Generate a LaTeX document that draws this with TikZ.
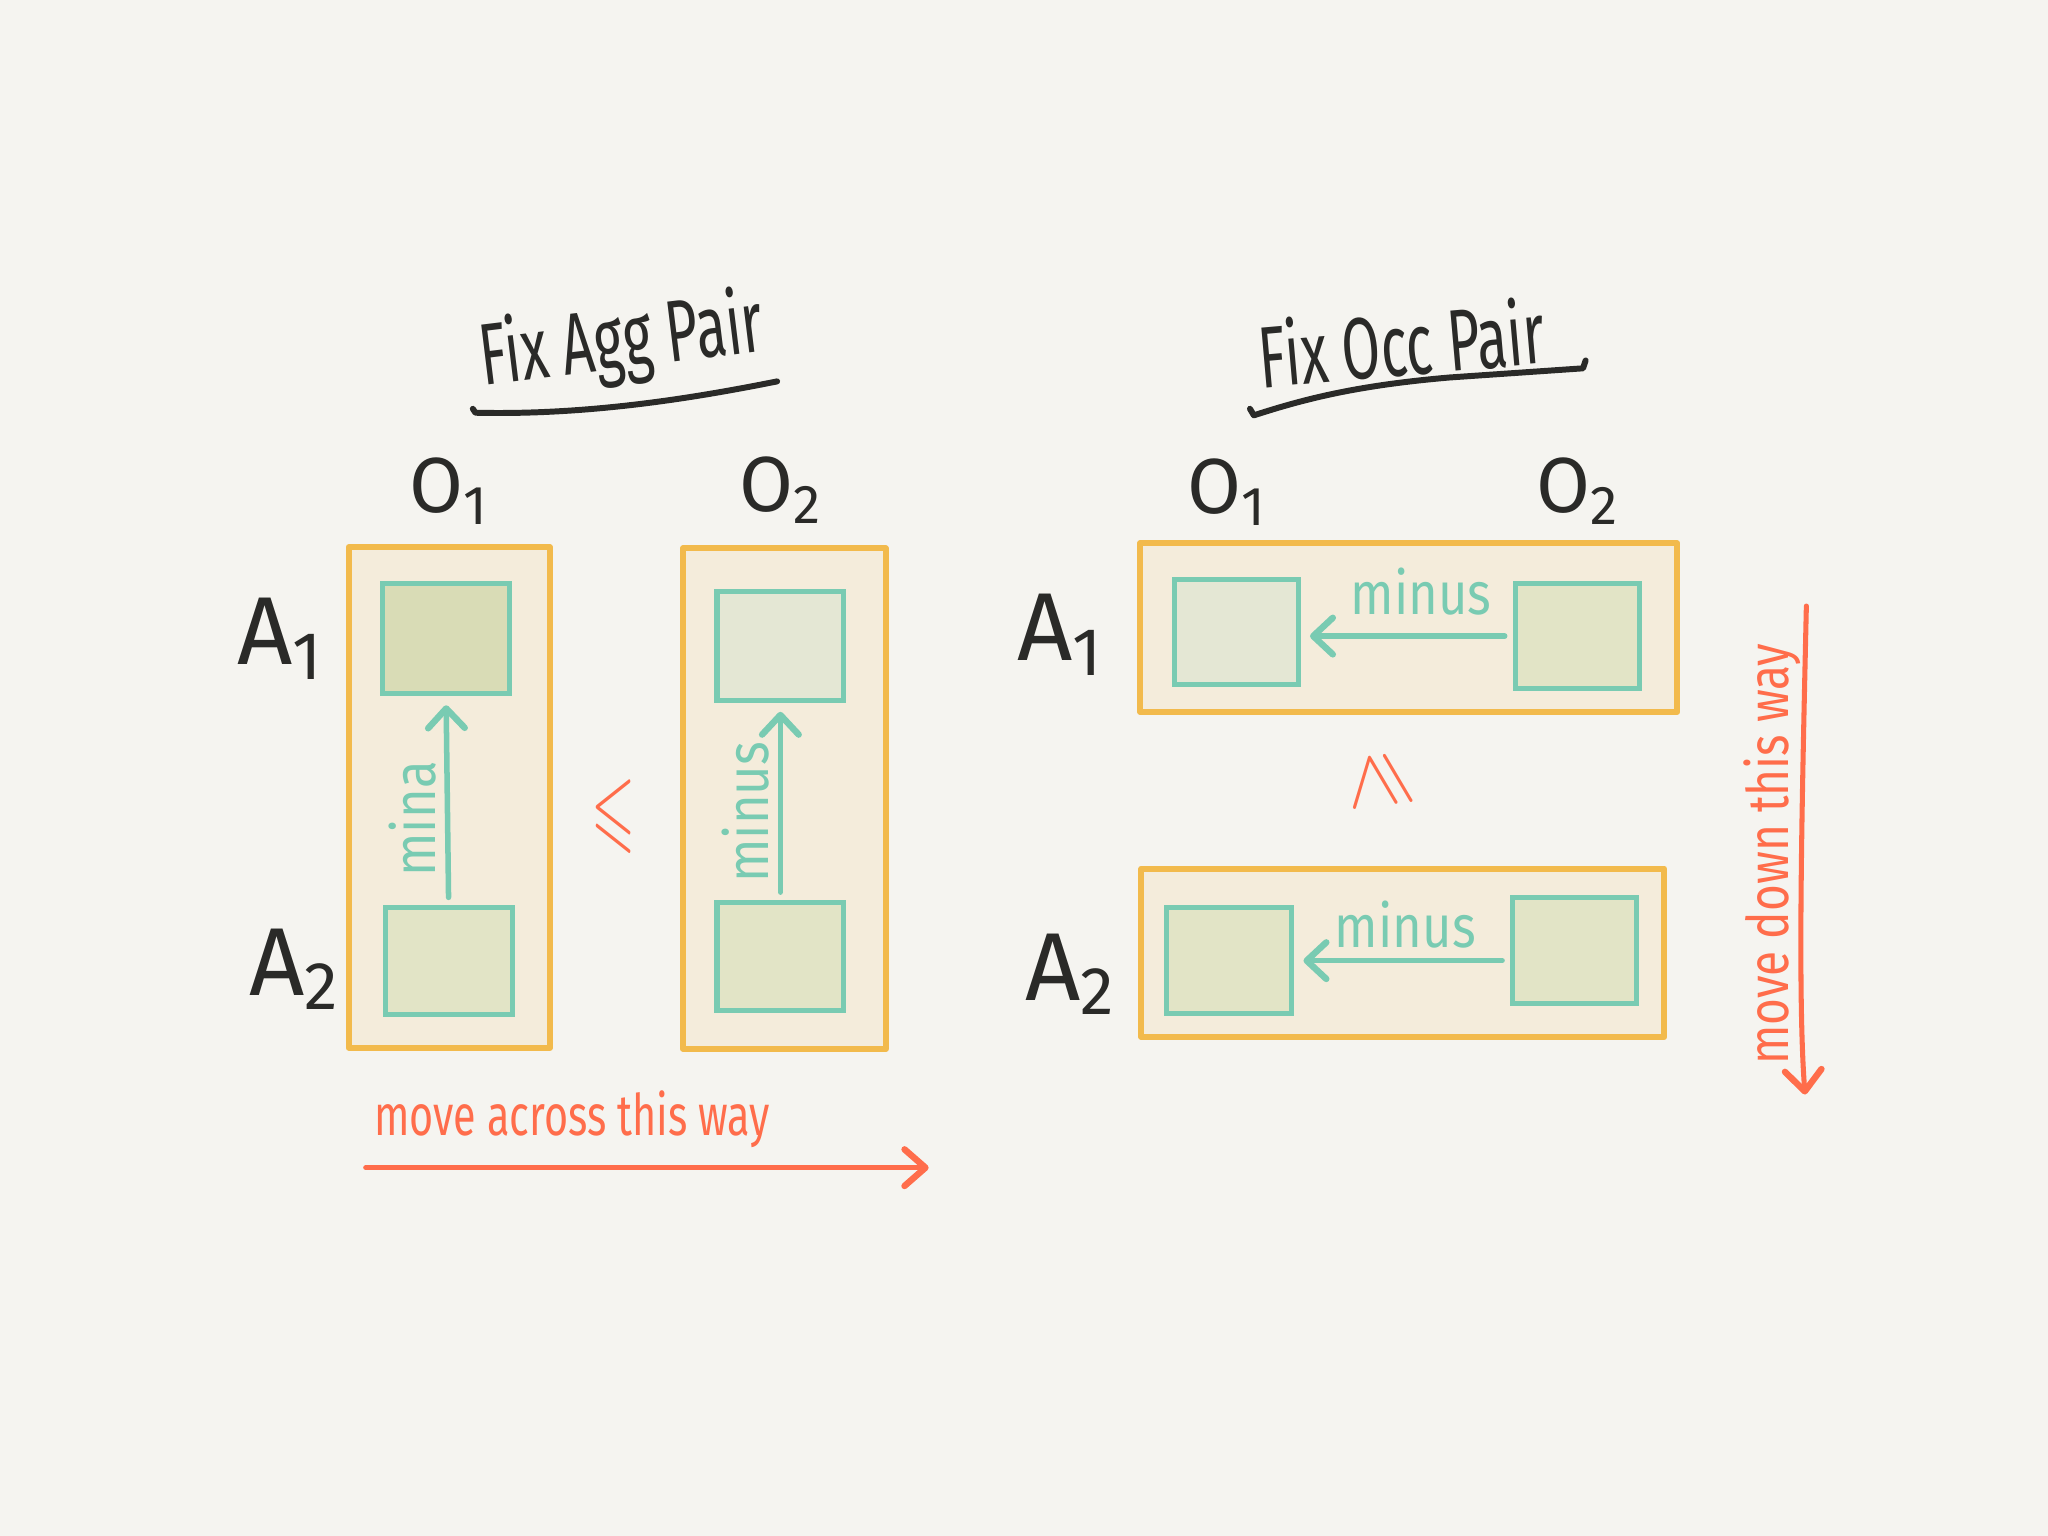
\documentclass[tikz,border=0pt]{standalone}
\usepackage{fontspec}
\setmainfont{Fira Sans}
\usepackage{amssymb}
\usetikzlibrary{arrows.meta}
\definecolor{bg}{HTML}{F5F4F0}
\definecolor{ora}{HTML}{F2BA4C}
\definecolor{orafill}{HTML}{F4ECDB}
\definecolor{tealc}{HTML}{79CBB2}
\definecolor{sqdark}{HTML}{D9DCB6}
\definecolor{sqmid}{HTML}{E2E4C6}
\definecolor{sqlight}{HTML}{E4E7D4}
\definecolor{redc}{HTML}{FF6D4B}
\definecolor{ink}{HTML}{2A2A28}
\newcommand\handtxt[2]{\scalebox{#1}[1]{#2}}
\tikzset{
  panel/.style={draw=ora, fill=orafill, line width=1.3pt, line join=round, inner sep=0pt},
  cell/.style={draw=tealc, line width=1.1pt, inner sep=0pt},
  flow/.style={draw=tealc, line width=1.2pt, line cap=round, shorten >=0.07cm, shorten <=0.06cm,
    -{Straight Barb[length=1.5mm,width=2.8mm,line width=1.4pt,round]}},
  redarrow/.style={draw=redc, line width=1.1pt, line cap=round,
    -{Straight Barb[length=1.6mm,width=2.8mm,line width=1.4pt,round]}},
  title/.style={text=ink, font=\fontsize{19}{19}\selectfont, inner sep=0pt},
  olabel/.style={text=ink, font=\fontsize{17}{17}\selectfont, inner sep=0pt},
  alabel/.style={text=ink, font=\fontsize{21}{21}\selectfont, inner sep=0pt},
  tealtxt/.style={text=tealc, font=\fontsize{13}{13}\selectfont, inner sep=0pt},
  redtxt/.style={text=redc, font=\fontsize{12.5}{12.5}\selectfont, inner sep=0pt},
  ulink/.style={draw=ink, line width=1.3pt, line cap=round, line join=round}
}
\begin{document}
\begin{tikzpicture}[x=0.01cm,y=-0.01cm]
\fill[bg] (0,0) rectangle (1568,1176);
\useasboundingbox (0,0) rectangle (1568,1176);

% ---------- left: Fix Agg Pair ----------
\node[title, rotate=7] (titleL) at (476,263) {\handtxt{0.64}{Fix Agg Pair}};
\coordinate (ulL1) at (362,313);
\coordinate (ulL2) at (595,292);
\draw[ulink] (ulL1) -- ++(2,3) .. controls (450,318) and (530,305) .. (ulL2);

\node[olabel] (O1L) at (344,376) {O\textsubscript{1}};
\node[olabel] (O2L) at (598,375) {O\textsubscript{2}};
\node[alabel] (A1L) at (215,489) {A\textsubscript{1}};
\node[alabel] (A2L) at (226,742) {A\textsubscript{2}};

\node[panel, minimum width=1.54cm, minimum height=3.83cm] (L1) at (344,610.5) {};
\node[cell, fill=sqdark, minimum width=0.97cm, minimum height=0.84cm] (L1a) at (341.5,489) {};
\node[cell, fill=sqmid, minimum width=0.97cm, minimum height=0.82cm] (L1b) at (343.5,736) {};
\draw[flow] (L1b.north) -- (L1a.south);
\node[tealtxt, rotate=90] (minusL1) at (316,627) {\handtxt{0.85}{mina}};

\node[panel, minimum width=1.55cm, minimum height=3.83cm] (L2) at (600.5,611.5) {};
\node[cell, fill=sqlight, minimum width=0.97cm, minimum height=0.83cm] (L2a) at (597.5,494.5) {};
\node[cell, fill=sqmid, minimum width=0.97cm, minimum height=0.83cm] (L2b) at (597.5,732.5) {};
\draw[flow] (L2b.north) -- (L2a.south);
\node[tealtxt, rotate=90] (minusL2) at (571,622) {\handtxt{0.85}{minus}};

\node[text=redc, inner sep=0pt] (leq) at (470,625) {\scalebox{0.95}[1.6]{\fontsize{13}{13}\selectfont$\leqslant$}};

\node[redtxt] (acrossT) at (438,857) {\handtxt{0.72}{move across this way}};
\coordinate (acrossS) at (280,894);
\coordinate (acrossE) at (711,894);
\draw[redarrow] (acrossS) -- (acrossE);

% ---------- right: Fix Occ Pair ----------
\node[title, rotate=5] (titleR) at (1073,262) {\handtxt{0.64}{Fix Occ Pair}};
\coordinate (ulR1) at (957,313);
\coordinate (ulR2) at (1214,276);
\draw[ulink] (ulR1) -- (960,318) .. controls (1000,305) and (1040,295) .. (1110,289) -- (1212,282) -- (ulR2);

\node[olabel] (O1R) at (940,377) {O\textsubscript{1}};
\node[olabel] (O2R) at (1208,376) {O\textsubscript{2}};
\node[alabel] (A1R) at (812,486) {A\textsubscript{1}};
\node[alabel] (A2R) at (820,746) {A\textsubscript{2}};

\node[panel, minimum width=4.11cm, minimum height=1.29cm] (R1) at (1078.5,480.5) {};
\node[cell, fill=sqlight, minimum width=0.95cm, minimum height=0.80cm] (R1a) at (946.5,484) {};
\node[cell, fill=sqmid, minimum width=0.95cm, minimum height=0.80cm] (R1b) at (1207.5,487) {};
\draw[flow] (R1b.west) -- (R1b.west -| R1a.east);
\node[tealtxt] (minusR1) at (1088,453) {\handtxt{0.85}{minus}};

\node[panel, minimum width=4.00cm, minimum height=1.29cm] (R2) at (1074,729.5) {};
\node[cell, fill=sqmid, minimum width=0.96cm, minimum height=0.81cm] (R2a) at (941,735.5) {};
\node[cell, fill=sqmid, minimum width=0.95cm, minimum height=0.81cm] (R2b) at (1205.5,727.5) {};
\draw[flow] (R2b.west |- R2a.east) -- (R2a.east);
\node[tealtxt] (minusR2) at (1076,708) {\handtxt{0.85}{minus}};

\node[text=redc, inner sep=0pt, rotate=97] (geq) at (1057,598) {\scalebox{1.4}[1.3]{\fontsize{13}{13}\selectfont$\geqslant$}};

\node[redtxt, rotate=90] (downT) at (1357,654) {\handtxt{0.8}{move down this way}};
\coordinate (downS) at (1383,464);
\coordinate (downE) at (1382,838);
\draw[redarrow] (downS) .. controls (1380,600) and (1376,760) .. (downE);
\end{tikzpicture}
\end{document}
